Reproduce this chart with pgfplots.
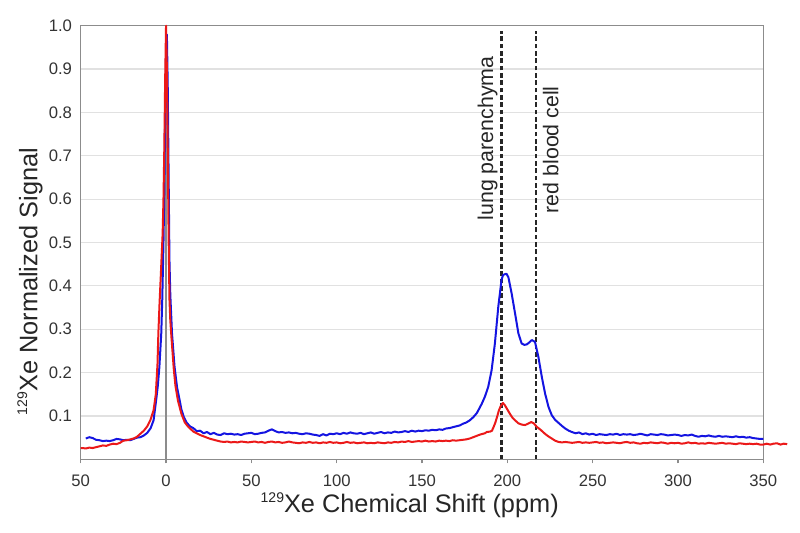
\documentclass[border=0pt]{standalone}
\usepackage{fontspec}
\setmainfont{Liberation Sans}
\usepackage{pgfplots}
\pgfplotsset{compat=1.18}
\usetikzlibrary{calc}
\definecolor{cblue}{RGB}{20,20,225}
\definecolor{cred}{RGB}{235,25,25}
\definecolor{axgray}{RGB}{140,140,140}
\definecolor{gridgray}{RGB}{225,225,225}
\begin{document}
\begin{tikzpicture}
\begin{axis}[
  scale only axis, width=511.7pt, height=325pt,
  xmin=-50, xmax=350, ymin=0, ymax=1,
  clip=false,
  axis line style={draw=axgray, line width=1.1pt},
  xtick={-50,0,50,100,150,200,250,300,350},
  xticklabels={50,0,50,100,150,200,250,300,350},
  ytick={0.1,0.2,0.3,0.4,0.5,0.6,0.7,0.8,0.9,1.0},
  yticklabels={0.1,0.2,0.3,0.4,0.5,0.6,0.7,0.8,0.9,1.0},
  ymajorgrids, grid style={draw=gridgray, line width=0.9pt},
  xtick pos=bottom, ytick pos=left, tick align=outside,
  major tick length=3pt,
  xtick style={draw=axgray, line width=0.9pt},
  ytick style={draw=none},
  ticklabel style={font=\fontsize{12.5}{14}\selectfont, text=black!80},
  /pgf/number format/assume math mode=true,
  xticklabel style={yshift=-5pt},
  xlabel={\raisebox{0.75ex}{\fontsize{10.5}{11}\selectfont 129}Xe Chemical Shift (ppm)},
  ylabel={\raisebox{0.75ex}{\fontsize{10.5}{11}\selectfont 129}Xe Normalized Signal},
  xlabel style={font=\fontsize{19}{22}\selectfont, text=black!85, at={(axis description cs:0.482,-0.1223)}, anchor=base},
  ylabel style={font=\fontsize{19}{22}\selectfont, text=black!85, at={(axis description cs:-0.0743,0.41)}, anchor=center},
]
\addplot[axgray, line width=1.1pt] coordinates {(0,0) (0,1)};
\addplot[black!85, line width=1.7pt, dash pattern=on 3.5pt off 2pt] coordinates {(196.6,0) (196.6,0.987)};
\addplot[black!85, line width=1.7pt, dash pattern=on 3.5pt off 2pt] coordinates {(216.6,0) (216.6,0.987)};
\addplot[cblue, line width=1.5pt, line join=round] coordinates {
(-47,0.048) (-45,0.051) (-43,0.049) (-41,0.045) (-39,0.044) (-37,0.042) (-35,0.043) (-33,0.042) (-31,0.044) (-29,0.047)
(-27,0.046) (-25,0.044) (-23,0.045) (-21,0.044) (-19,0.047) (-17,0.050) (-15,0.051) (-13,0.055) (-11,0.061) (-9,0.072)
(-7.3,0.090) (-5.8,0.136) (-4.8,0.17) (-3.9,0.213) (-2.8,0.29) (-2.2,0.37) (-1.5,0.50) (-1,0.62) (-0.5,0.80) (0,0.93)
(0.5,0.98) (1,0.86) (1.5,0.66) (2,0.46) (2.5,0.38) (3.5,0.29) (5,0.213) (6.5,0.165) (8,0.136) (9,0.115) (10.4,0.098)
(12,0.085) (14,0.076) (16,0.072) (18,0.065) (20,0.066) (22,0.060) (24,0.063) (26,0.058) (28,0.061) (30,0.057)
(32,0.056) (34,0.060) (36,0.058) (38,0.059) (40,0.057) (42,0.058) (44,0.056) (46,0.059) (48,0.060) (50,0.061)
(52,0.058) (54,0.059) (56,0.061) (58,0.062) (60,0.066) (62,0.069) (64,0.065) (66,0.062) (68,0.063) (70,0.061)
(72,0.062) (74,0.060) (76,0.061) (78,0.059) (80,0.058) (82,0.060) (84,0.059) (86,0.057) (88,0.056) (90,0.054)
(92,0.058) (94,0.055) (96,0.059) (98,0.058) (100,0.060) (102,0.058) (104,0.061) (106,0.059) (108,0.062) (110,0.060)
(112,0.059) (114,0.061) (116,0.058) (118,0.060) (120,0.062) (122,0.059) (124,0.061) (126,0.063) (128,0.060) (130,0.062)
(132,0.061) (134,0.064) (136,0.062) (138,0.063) (140,0.065) (142,0.063) (144,0.066) (146,0.064) (148,0.066) (150,0.065)
(152,0.067) (154,0.066) (156,0.068) (158,0.067) (160,0.069) (162,0.068) (164,0.071) (166,0.072) (168,0.074) (170,0.076)
(172,0.078) (174,0.082) (176,0.085) (178,0.090) (180,0.097) (182,0.106) (183,0.113) (185,0.128) (186.8,0.144) (188.8,0.167)
(190.8,0.206) (192.7,0.267) (194.7,0.352) (196.6,0.414) (197.5,0.425) (198.6,0.427) (199.5,0.428) (200.6,0.420) (202.5,0.383) (204.5,0.337)
(206.5,0.29) (208.4,0.267) (210,0.264) (211.4,0.265) (213,0.270) (214.3,0.275) (216.2,0.271) (218.2,0.236) (220.2,0.19) (222.1,0.152)
(224.1,0.121) (226,0.102) (228,0.091) (230,0.084) (232,0.077) (233.9,0.071) (236,0.066) (237.8,0.063) (240,0.060) (242,0.062)
(244,0.058) (246,0.060) (248,0.057) (250,0.059) (252,0.056) (254,0.058) (256,0.057) (258,0.056) (260,0.058) (262,0.057)
(264,0.059) (266,0.056) (268,0.058) (270,0.057) (272,0.058) (274,0.056) (276,0.057) (278,0.059) (280,0.057) (282,0.055)
(284,0.058) (286,0.057) (288,0.056) (290,0.058) (292,0.057) (294,0.055) (296,0.056) (298,0.057) (300,0.056) (302,0.054)
(304,0.056) (306,0.055) (308,0.057) (310,0.054) (312,0.052) (314,0.054) (316,0.053) (318,0.055) (320,0.053) (322,0.052)
(324,0.054) (326,0.052) (328,0.053) (330,0.052) (332,0.051) (334,0.053) (336,0.051) (338,0.052) (340,0.050) (342,0.051)
(344,0.049) (346,0.048) (348,0.047) (350,0.047)
};
\addplot[cred, line width=1.5pt, line join=round] coordinates {
(-50,0.026) (-49,0.026) (-47,0.025) (-45,0.027) (-43,0.026) (-41,0.028) (-39,0.030) (-37,0.032) (-35,0.031) (-33,0.034)
(-31,0.036) (-29,0.035) (-27,0.038) (-25,0.043) (-23,0.044) (-21,0.046) (-19,0.048) (-17,0.052) (-15,0.059) (-13,0.066)
(-11,0.076) (-9.2,0.090) (-7.3,0.113) (-6,0.15) (-5,0.22) (-4.5,0.29) (-3.8,0.36) (-3,0.43) (-2,0.52) (-1.5,0.60)
(-1,0.72) (-0.5,0.88) (0,1.0) (0.5,0.90) (1,0.72) (1.5,0.52) (2,0.37) (2.5,0.32) (3.2,0.28) (4.5,0.21)
(5.5,0.17) (7,0.135) (9,0.105) (11,0.085) (13,0.075) (16,0.064) (18,0.060) (20,0.056) (22,0.053) (24,0.050)
(26,0.047) (28,0.045) (30,0.043) (32,0.041) (34,0.040) (36,0.041) (38,0.039) (40,0.040) (42,0.039) (44,0.041)
(46,0.040) (48,0.039) (50,0.040) (52,0.041) (54,0.039) (56,0.040) (58,0.038) (60,0.040) (62,0.041) (64,0.039)
(66,0.040) (68,0.038) (70,0.039) (72,0.041) (74,0.039) (76,0.038) (78,0.037) (80,0.039) (82,0.038) (84,0.040)
(86,0.038) (88,0.039) (90,0.037) (92,0.039) (94,0.038) (96,0.040) (98,0.038) (100,0.039) (102,0.037) (104,0.038)
(106,0.040) (108,0.038) (110,0.039) (112,0.037) (114,0.038) (116,0.039) (118,0.037) (120,0.038) (122,0.037) (124,0.039)
(126,0.038) (128,0.037) (130,0.039) (132,0.038) (134,0.040) (136,0.039) (138,0.041) (140,0.040) (142,0.042) (144,0.040)
(146,0.041) (148,0.042) (150,0.041) (152,0.043) (154,0.041) (156,0.042) (158,0.041) (160,0.043) (162,0.042) (164,0.043)
(166,0.042) (168,0.044) (170,0.043) (172,0.044) (174,0.045) (176,0.046) (178,0.048) (180,0.051) (182,0.054) (184,0.057)
(186.8,0.060) (188,0.063) (190,0.064) (191,0.066) (192,0.075) (193,0.085) (194,0.098) (195,0.112) (196,0.122) (197.4,0.130)
(198.5,0.125) (200,0.115) (201.5,0.105) (203,0.096) (204.5,0.090) (206.5,0.083) (208.5,0.080) (210.4,0.079) (212,0.082) (214,0.086)
(215.5,0.083) (217.2,0.075) (219.5,0.068) (222,0.059) (224,0.053) (226,0.048) (228,0.043) (230,0.040) (232,0.039) (234,0.040)
(236,0.039) (238,0.038) (240,0.039) (242,0.040) (244,0.038) (246,0.039) (248,0.038) (250,0.039) (252,0.040) (254,0.038)
(256,0.039) (258,0.037) (260,0.038) (262,0.039) (264,0.038) (266,0.037) (268,0.039) (270,0.040) (272,0.038) (274,0.039)
(276,0.037) (278,0.036) (280,0.038) (282,0.037) (284,0.039) (286,0.038) (288,0.037) (290,0.039) (292,0.038) (294,0.036)
(296,0.038) (298,0.037) (300,0.038) (302,0.036) (304,0.037) (306,0.039) (308,0.037) (310,0.038) (312,0.036) (314,0.037)
(316,0.036) (318,0.038) (320,0.037) (322,0.036) (324,0.037) (326,0.038) (328,0.036) (330,0.037) (332,0.036) (334,0.035)
(336,0.037) (338,0.036) (340,0.035) (342,0.036) (344,0.035) (346,0.036) (348,0.034) (350,0.034) (352,0.036) (354,0.034)
(356,0.036) (358,0.037) (360,0.034) (362,0.036) (364,0.035)
};
\node[rotate=90, anchor=center, font=\fontsize{16}{19}\selectfont, text=black!85] at (axis cs:188.5,0.74) {lung parenchyma};
\node[rotate=90, anchor=center, font=\fontsize{16}{19}\selectfont, text=black!85] at (axis cs:225.5,0.714) {red blood cell};
\end{axis}
\pgfresetboundingbox
\path[use as bounding box] ($(current axis.south west)+(-60.5pt,-54.75pt)$) rectangle ($(current axis.north east)+(27.5pt,19.3pt)$);
\end{tikzpicture}
\end{document}
